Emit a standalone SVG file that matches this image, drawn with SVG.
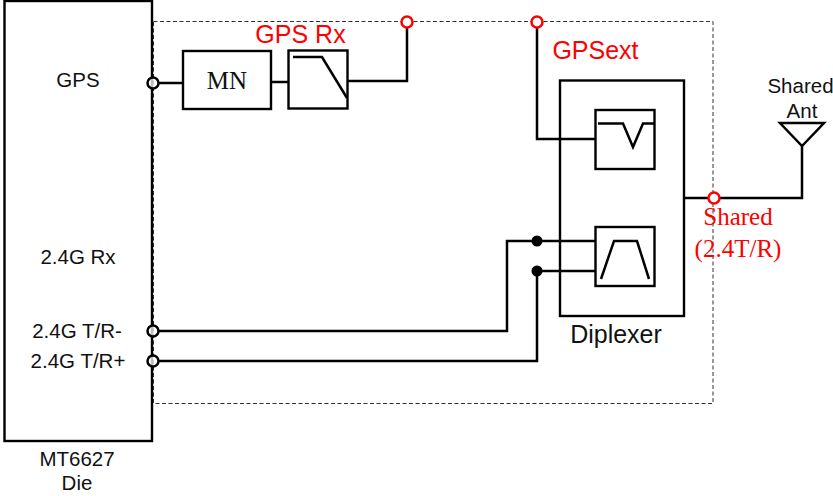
<svg xmlns="http://www.w3.org/2000/svg" width="833" height="496" viewBox="0 0 833 496">
<style>
.box{fill:none;stroke:#000;stroke-width:2.4}
.w{fill:none;stroke:#000;stroke-width:2.5;stroke-linejoin:miter}
.p{fill:#fff;fill-opacity:.75;stroke:#000;stroke-width:2.5}
.r{fill:#fff;stroke:#f00;stroke-width:2.5}
.d{fill:#000;stroke:none}
.dash{fill:none;stroke:#333;stroke-width:1;stroke-dasharray:4 2.5}
text{font-family:"Liberation Sans",Arial,sans-serif;text-anchor:middle;fill:#111}
.s{font-size:20.500px}
.l{font-size:25px}
.rs{fill:#f00}
.t{font-family:"Liberation Serif","Times New Roman",serif}
</style>
<rect width="833" height="496" fill="#fff"/>
<g id="boundary"><rect class="dash" x="153.500" y="21.500" width="559.500" height="382"/></g>
<g id="connectors">
<path class="w" d="M158 83H183"/>
<path class="w" d="M271 82H288"/>
<path class="w" d="M348 81H407V22"/>
<path class="w" d="M537 22V139H596"/>
<path class="w" d="M158 331H507V241H596"/>
<path class="w" d="M158 361H537V271H596"/>
<path class="w" d="M684 198H802V146"/>
</g>
<g id="die">
<rect class="box" x="4.500" y="1" width="147.500" height="440"/>
<text class="s" x="78" y="87">GPS</text>
<text class="s" x="78" y="264">2.4G Rx</text>
<text class="s" x="77" y="338">2.4G T/R-</text>
<text class="s" x="78" y="368">2.4G T/R+</text>
<text class="s" x="77" y="466">MT6627</text>
<text class="s" x="77" y="490">Die</text>
</g>
<g id="port-gps"><circle class="p" cx="153" cy="83" r="5.500"/></g>
<g id="port-trm"><circle class="p" cx="153" cy="331" r="5.500"/></g>
<g id="port-trp"><circle class="p" cx="153" cy="361" r="5.500"/></g>
<g id="mn"><rect class="box" x="183" y="51" width="88" height="58"/><text class="t" x="227" y="89" font-size="25">MN</text></g>
<g id="lpf"><rect class="box" x="288.500" y="50.500" width="59" height="58"/><path class="w" d="M293 57H322L347 98"/></g>
<g id="gps-rx-label"><text class="rs l" x="300.500" y="43">GPS Rx</text></g>
<g id="gps-rx-port"><circle class="r" cx="407" cy="22" r="5.500"/></g>
<g id="gpsext-port"><circle class="r" cx="537" cy="22" r="5.500"/></g>
<g id="gpsext-label"><text class="rs l" x="595.500" y="59">GPSext</text></g>
<g id="diplexer">
<rect class="box" x="560" y="80.500" width="124" height="235.500"/>
<text class="l" x="616" y="343">Diplexer</text>
</g>
<g id="notch"><rect class="box" x="595.500" y="110" width="59" height="59"/><path class="w" d="M598 123.500H623L633 147L643 123.500H654"/></g>
<g id="bandpass"><rect class="box" x="595.500" y="227" width="59" height="59"/><path class="w" d="M601 279L614 241H637L649 279"/></g>
<g id="junction-1"><circle class="d" cx="537" cy="241" r="5.500"/></g>
<g id="junction-2"><circle class="d" cx="537" cy="271" r="5.500"/></g>
<g id="shared-port"><circle class="r" cx="714" cy="198" r="5.500"/></g>
<g id="shared-label">
<text class="rs t l" x="738" y="225">Shared</text>
<text class="rs t l" x="738" y="257">(2.4T/R)</text>
</g>
<g id="antenna">
<path class="w" d="M780 123H824L802 146Z"/>
<text class="s" x="800.500" y="93">Shared</text>
<text class="s" x="802" y="118">Ant</text>
</g>
</svg>
